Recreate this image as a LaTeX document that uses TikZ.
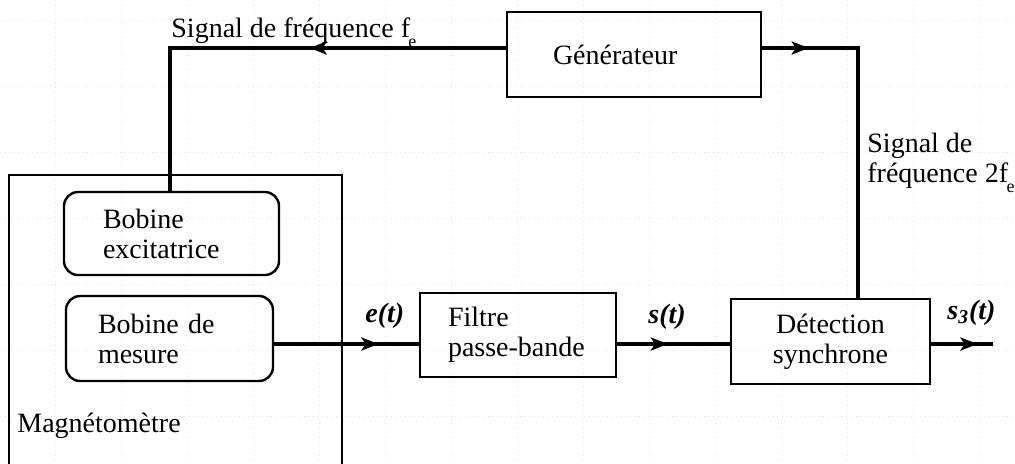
\documentclass[tikz,border=0pt]{standalone}
\usepackage{fontspec}
\setmainfont{Liberation Serif}
\usetikzlibrary{decorations.markings,arrows.meta}

% small, well-lowered index as printed after "f"
\newcommand{\lowsub}[1]{\kern-0.8pt\raisebox{-5pt}{\fontsize{9}{9}\selectfont #1}}

\tikzset{
  txt/.style={font=\fontsize{14}{15}\selectfont},
  blk/.style={draw, line width=1pt, inner sep=0pt, txt},
  coil/.style={blk, rounded corners=7pt, line width=1.2pt},
  frame/.style={draw, line width=0.9pt, inner sep=0pt},
  conn/.style={line width=1.6pt},
  arrowat/.style={postaction={decorate},
    decoration={markings, mark=at position #1 with {\arrow{Stealth[length=8.5pt,width=6.5pt,inset=2pt]}}}},
  sig/.style={inner sep=0pt, font=\fontsize{14}{15}\selectfont\bfseries\itshape},
  lbl/.style={txt, inner sep=0pt},
  gridline/.style={gray!22, dotted, line width=0.3pt},
}

\begin{document}
\begin{tikzpicture}[x=0.5pt, y=-0.5pt]
\clip (0,0) rectangle (1015,463);
\fill[white] (0,0) rectangle (1015,463);

% faint background grid
\foreach \gx in {-11,55,...,1015} \draw[gridline] (\gx,0) -- (\gx,463);
\foreach \gy in {20,86,...,463} \draw[gridline] (0,\gy) -- (1015,\gy);

% magnetometer enclosure and its coils
\node[frame, minimum width=166.5pt, minimum height=162.5pt] (mag) at (175.5,337.5) {};
\node[lbl, anchor=base west] (magl) at (17,432) {Magnétomètre};
\node[coil, minimum width=107.5pt, minimum height=41.5pt, text width=68.5pt, align=left]
  (exc) at (171.5,233.5) {Bobine\\excitatrice};
\node[coil, minimum width=103.5pt, minimum height=42.5pt, text width=71.5pt, align=left]
  (mes) at (169.5,338.5) {Bobine de\\mesure};

% processing chain
\node[blk, minimum width=98pt, minimum height=42pt, text width=70pt, align=left]
  (fil) at (518,335) {Filtre\\passe-bande};
\node[blk, minimum width=99.5pt, minimum height=42.5pt, align=center]
  (det) at (830.5,341.5) {Détection\\synchrone};
\node[blk, minimum width=127pt, minimum height=42.5pt, text width=81pt, align=left]
  (gen) at (634,54.5) {Générateur};

% routing points
\coordinate (cL) at (170,48);
\coordinate (cR) at (858,48);
\coordinate (yb) at (0,344);
\coordinate (out) at (993,344);

% connectors
\draw[conn, arrowat=0.41] (gen.west |- cL) -- (cL) -- (cL |- exc.north);
\draw[conn, arrowat=0.135] (gen.east |- cR) -- (cR) -- (cR |- det.north);
\draw[conn, arrowat=0.72] (mes.east |- yb) -- (fil.west |- yb);
\draw[conn, arrowat=0.45] (fil.east |- yb) -- (det.west |- yb);
\draw[conn, arrowat=0.75] (det.east |- yb) -- (out);

% signal labels
\node[lbl, anchor=base west] (sigfe) at (171,37) {Signal de fréquence f\lowsub{e}};
\node[lbl, anchor=base west, align=left] (sig2fe) at (867,182) {Signal de\\fréquence 2f\lowsub{e}};
\node[sig, anchor=base west] (le) at (365,322) {e(t)};
\node[sig, anchor=base west] (ls) at (648,323) {s(t)};
\node[sig, anchor=base west] (ls3) at (947,319) {s\textsubscript{3}(t)};
\end{tikzpicture}
\end{document}
